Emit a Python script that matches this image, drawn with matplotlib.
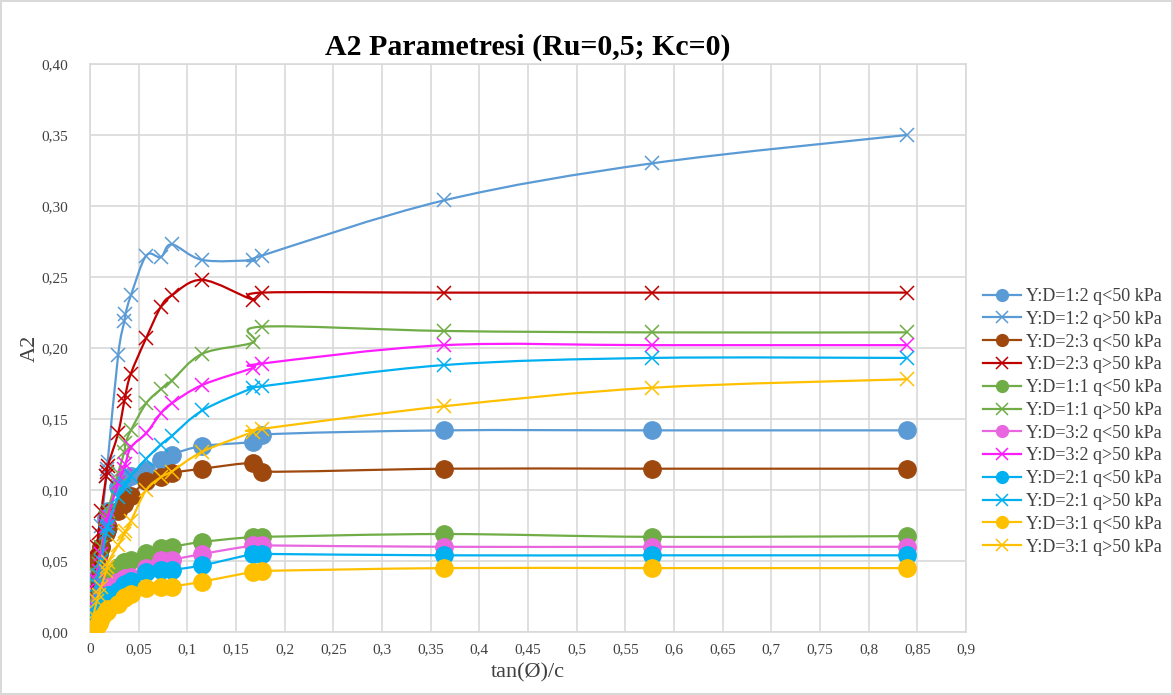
import numpy as np
import matplotlib
matplotlib.use("Agg")
import matplotlib.pyplot as plt
from matplotlib.path import Path
from matplotlib.patches import PathPatch
from matplotlib.lines import Line2D

plt.rcParams['font.family'] = ['Liberation Serif', 'DejaVu Serif']

# tan(phi)/c values shared by every series
x_vals = [0, 0.0035, 0.0073, 0.0088, 0.0115, 0.0168, 0.0176, 0.0182, 0.0289, 0.0353, 0.0364,
          0.042, 0.0577, 0.0728, 0.0839, 0.1155, 0.1678, 0.1763, 0.364, 0.577, 0.839]

a12_lo = [0, 0.020, 0.038, 0.045, 0.060, 0.080, 0.083, 0.085, 0.102, 0.107, 0.108,
          0.110, 0.114, 0.121, 0.125, 0.131, 0.134, 0.139, 0.142, 0.142, 0.142]
a12_hi = [0, 0.025, 0.045, 0.055, 0.075, 0.110, 0.115, 0.120, 0.195, 0.219, 0.224,
          0.237, 0.265, 0.264, 0.273, 0.262, 0.262, 0.265, 0.304, 0.330, 0.350]
a23_lo = [0, 0.051, 0.053, 0.055, 0.060, 0.070, 0.072, 0.074, 0.085, 0.090, 0.092,
          0.096, 0.106, 0.109, 0.112, 0.115, 0.119, 0.113, 0.115, 0.115, 0.115]
a23_hi = [0, 0.030, 0.060, 0.070, 0.085, 0.110, 0.113, 0.117, 0.140, 0.163, 0.167,
          0.182, 0.207, 0.229, 0.237, 0.248, 0.234, 0.239, 0.239, 0.239, 0.239]
a11_lo = [0, 0.010, 0.019, 0.022, 0.028, 0.036, 0.037, 0.038, 0.046, 0.049, 0.0495,
          0.051, 0.0555, 0.059, 0.060, 0.0635, 0.067, 0.067, 0.069, 0.067, 0.0675]
a11_hi = [0, 0.020, 0.040, 0.048, 0.060, 0.080, 0.082, 0.085, 0.112, 0.127, 0.133,
          0.142, 0.161, 0.171, 0.177, 0.196, 0.204, 0.215, 0.212, 0.211, 0.211]
a32_lo = [0, 0.008, 0.016, 0.019, 0.024, 0.030, 0.031, 0.032, 0.035, 0.0375, 0.038,
          0.039, 0.045, 0.051, 0.051, 0.055, 0.061, 0.061, 0.060, 0.060, 0.060]
a32_hi = [0, 0.018, 0.036, 0.043, 0.055, 0.075, 0.078, 0.081, 0.105, 0.115, 0.118,
          0.130, 0.140, 0.154, 0.161, 0.174, 0.186, 0.189, 0.202, 0.202, 0.202]
a21_lo = [0, 0.006, 0.012, 0.015, 0.019, 0.024, 0.025, 0.026, 0.029, 0.033, 0.034,
          0.036, 0.0425, 0.0437, 0.0437, 0.047, 0.055, 0.055, 0.054, 0.054, 0.054]
a21_hi = [0, 0.017, 0.033, 0.040, 0.050, 0.070, 0.073, 0.075, 0.095, 0.102, 0.104,
          0.110, 0.122, 0.132, 0.138, 0.156, 0.172, 0.173, 0.188, 0.193, 0.193]
a31_lo = [0, 0.002, 0.004, 0.006, 0.010, 0.014, 0.015, 0.016, 0.020, 0.024, 0.025,
          0.027, 0.031, 0.032, 0.032, 0.0355, 0.0425, 0.043, 0.045, 0.045, 0.045]
a31_hi = [0, 0.012, 0.022, 0.026, 0.032, 0.043, 0.046, 0.049, 0.061, 0.069, 0.071,
          0.078, 0.100, 0.109, 0.113, 0.127, 0.141, 0.143, 0.159, 0.172, 0.178]

labels = ['Y:D=1:2 q<50 kPa', 'Y:D=1:2 q>50 kPa', 'Y:D=2:3 q<50 kPa', 'Y:D=2:3 q>50 kPa',
          'Y:D=1:1 q<50 kPa', 'Y:D=1:1 q>50 kPa', 'Y:D=3:2 q<50 kPa', 'Y:D=3:2 q>50 kPa',
          'Y:D=2:1 q<50 kPa', 'Y:D=2:1 q>50 kPa', 'Y:D=3:1 q<50 kPa', 'Y:D=3:1 q>50 kPa']
series = [a12_lo, a12_hi, a23_lo, a23_hi, a11_lo, a11_hi,
          a32_lo, a32_hi, a21_lo, a21_hi, a31_lo, a31_hi]
colors = ['#5B9BD5', '#5B9BD5', '#9E480E', '#C00000', '#70AD47', '#70AD47',
          '#E866E0', '#FF1CFF', '#00B0F0', '#00B0F0', '#FFC000', '#FFC000']

x_ticks = np.arange(0, 0.91, 0.05)
x_ticklabels = ['0', '0,05', '0,1', '0,15', '0,2', '0,25', '0,3', '0,35', '0,4', '0,45',
                '0,5', '0,55', '0,6', '0,65', '0,7', '0,75', '0,8', '0,85', '0,9']
y_ticks = np.arange(0, 0.401, 0.05)
y_ticklabels = ['0,00', '0,05', '0,10', '0,15', '0,20', '0,25', '0,30', '0,35', '0,40']


def smooth_path(xs, ys):
    # Excel-style smoothed line: cubic bezier through the points
    pts = np.column_stack([xs, ys])
    n = len(pts)
    verts = [pts[0]]
    codes = [Path.MOVETO]
    for i in range(n - 1):
        p0 = pts[i - 1] if i > 0 else pts[i]
        p1 = pts[i]
        p2 = pts[i + 1]
        p3 = pts[i + 2] if i + 2 < n else pts[i + 1]
        c1 = p1 + (p2 - p0) / 6.0
        c2 = p2 - (p3 - p1) / 6.0
        verts += [c1, c2, p2]
        codes += [Path.CURVE4] * 3
    return Path(verts, codes)


fig = plt.figure(figsize=(11.73, 6.95), dpi=100)
fig.patch.set_edgecolor('#D9D9D9')
fig.patch.set_linewidth(1.5)
ax = fig.add_axes([90 / 1173, 63 / 695, 876 / 1173, 568 / 695])

handles = []
for k, (ys, lab, col) in enumerate(zip(series, labels, colors)):
    z = 3 + 2 * k
    ax.add_patch(PathPatch(smooth_path(x_vals, ys), facecolor='none', edgecolor=col,
                           linewidth=1.6, zorder=z, capstyle='round', joinstyle='round'))
    if lab.endswith('q<50 kPa'):
        ax.plot(x_vals, ys, linestyle='none', marker='o', markersize=12.5,
                color=col, markeredgecolor=col, zorder=z + 1)
        handles.append(Line2D([], [], color=col, linewidth=1.6, marker='o', markersize=8.5,
                              markeredgecolor=col))
    else:
        ax.plot(x_vals, ys, linestyle='none', marker='x', markersize=10,
                markeredgewidth=1.1, color=col, zorder=z + 1)
        handles.append(Line2D([], [], color=col, linewidth=1.6, marker='x', markersize=8.5,
                              markeredgewidth=1.1))

ax.set_xlim(0, 0.9)
ax.set_ylim(0, 0.4)
ax.set_xticks(x_ticks)
ax.set_xticklabels(x_ticklabels)
ax.set_yticks(y_ticks)
ax.set_yticklabels(y_ticklabels)
ax.tick_params(axis='both', length=0, labelsize=11, colors='#404040')
ax.tick_params(axis='y', pad=16)
ax.tick_params(axis='x', pad=8)
ax.grid(True, color='#D9D9D9', linewidth=1.2)
ax.set_axisbelow(True)
for sp in ax.spines.values():
    sp.set_color('#D9D9D9')
    sp.set_linewidth(1.2)

ax.set_title('A2 Parametresi (Ru=0,5; Kc=0)', fontsize=21.5, fontweight='bold', pad=7)
ax.set_xlabel('tan(Ø)/c', fontsize=16, color='#404040', labelpad=5)
ax.set_ylabel('A2', fontsize=16, color='#404040', labelpad=1)

leg = ax.legend(handles, labels, loc='upper left', bbox_to_anchor=(983 / 1173, 1 - 288 / 695),
                bbox_transform=fig.transFigure, frameon=False, fontsize=13,
                handlelength=2.1, handletextpad=0.3, labelspacing=0.32, borderpad=0,
                borderaxespad=0)
for t in leg.get_texts():
    t.set_color('#404040')

fig.savefig('out.png', dpi=100)
